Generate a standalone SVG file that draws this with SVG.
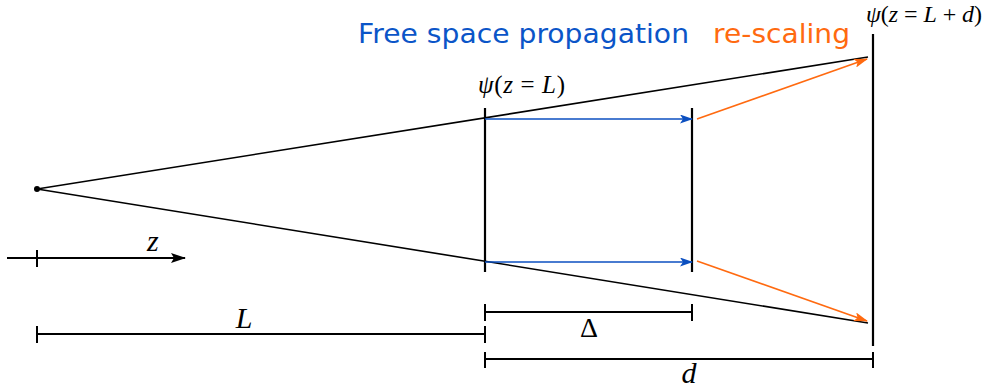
<svg xmlns="http://www.w3.org/2000/svg" width="986" height="391" viewBox="0 0 986 391">
<defs>
<style>
.ln{stroke:#000;stroke-width:1.6;fill:none}
.dim{stroke:#000;stroke-width:2;fill:none}
.bar{stroke:#000;stroke-width:2.2;fill:none}
.blue{stroke:#0b4fc0;stroke-width:1.5;fill:none}
.orange{stroke:#ff6a10;stroke-width:1.6;fill:none}
.math{font-family:"Liberation Serif","DejaVu Serif",serif;fill:#000}
.it{font-style:italic}
.title{font-family:"DejaVu Sans","Verdana",sans-serif;font-size:27px}
</style>
<marker id="ab" markerWidth="13" markerHeight="9" refX="12" refY="4.5" orient="auto" markerUnits="userSpaceOnUse"><path d="M0,0 L13,4.5 L0,9 L3,4.5 Z" fill="#0b4fc0"/></marker>
<marker id="ao" markerWidth="14" markerHeight="9" refX="13" refY="4.5" orient="auto" markerUnits="userSpaceOnUse"><path d="M0,0 L14,4.5 L0,9 L3,4.5 Z" fill="#ff6a10"/></marker>
<marker id="ak" markerWidth="15" markerHeight="10" refX="14" refY="5" orient="auto" markerUnits="userSpaceOnUse"><path d="M0,0 L15,5 L0,10 L3,5 Z" fill="#000"/></marker>
</defs>
<rect width="986" height="391" fill="#fff"/>
<g id="titles">
<text class="title" x="358" y="43" fill="#0b55c8" textLength="331" lengthAdjust="spacingAndGlyphs">Free space propagation</text>
<text class="title" x="713" y="43" fill="#ff6a10" textLength="137" lengthAdjust="spacingAndGlyphs">re-scaling</text>
</g>
<g id="source">
<circle cx="37" cy="189" r="3" fill="#000"/>
</g>
<g id="plane-L">
<line class="bar" x1="485" y1="108" x2="485" y2="272"/>
<text class="math" x="478" y="93" font-size="25" textLength="87" lengthAdjust="spacing"><tspan class="it">ψ</tspan>(<tspan class="it">z</tspan> = <tspan class="it">L</tspan>)</text>
</g>
<g id="plane-delta">
<line class="bar" x1="692" y1="108" x2="692" y2="272"/>
</g>
<g id="plane-Ld">
<line class="bar" x1="873" y1="34" x2="873" y2="346"/>
<text class="math" x="866" y="22" font-size="24" textLength="116" lengthAdjust="spacing"><tspan class="it">ψ</tspan>(<tspan class="it">z</tspan> = <tspan class="it">L</tspan> + <tspan class="it">d</tspan>)</text>
</g>
<g id="connectors">
<line class="ln" x1="37" y1="189" x2="868" y2="57"/>
<line class="ln" x1="37" y1="189" x2="868" y2="323"/>
<line class="blue" x1="485" y1="119" x2="692" y2="119" marker-end="url(#ab)"/>
<line class="blue" x1="485" y1="262" x2="692" y2="262" marker-end="url(#ab)"/>
<line class="orange" x1="697" y1="119" x2="867" y2="59" marker-end="url(#ao)"/>
<line class="orange" x1="697" y1="261" x2="867" y2="321" marker-end="url(#ao)"/>
</g>
<g id="z-axis">
<line class="dim" x1="7" y1="258" x2="185" y2="258" marker-end="url(#ak)"/>
<line class="dim" x1="37" y1="250" x2="37" y2="267"/>
<text class="math it" x="147" y="251" font-size="30">z</text>
</g>
<g id="dim-L">
<line class="dim" x1="37" y1="334" x2="485" y2="334"/>
<line class="dim" x1="37" y1="326" x2="37" y2="343"/>
<line class="dim" x1="485" y1="326" x2="485" y2="343"/>
<text class="math it" x="244" y="328" font-size="30" text-anchor="middle">L</text>
</g>
<g id="dim-delta">
<line class="dim" x1="485" y1="312" x2="692" y2="312"/>
<line class="dim" x1="485" y1="304" x2="485" y2="321"/>
<line class="dim" x1="692" y1="304" x2="692" y2="321"/>
<text class="math" x="589" y="337" font-size="28" text-anchor="middle">Δ</text>
</g>
<g id="dim-d">
<line class="dim" x1="485" y1="359" x2="873" y2="359"/>
<line class="dim" x1="485" y1="352" x2="485" y2="368"/>
<line class="dim" x1="873" y1="352" x2="873" y2="368"/>
<text class="math it" x="689" y="383" font-size="30" text-anchor="middle">d</text>
</g>
</svg>
